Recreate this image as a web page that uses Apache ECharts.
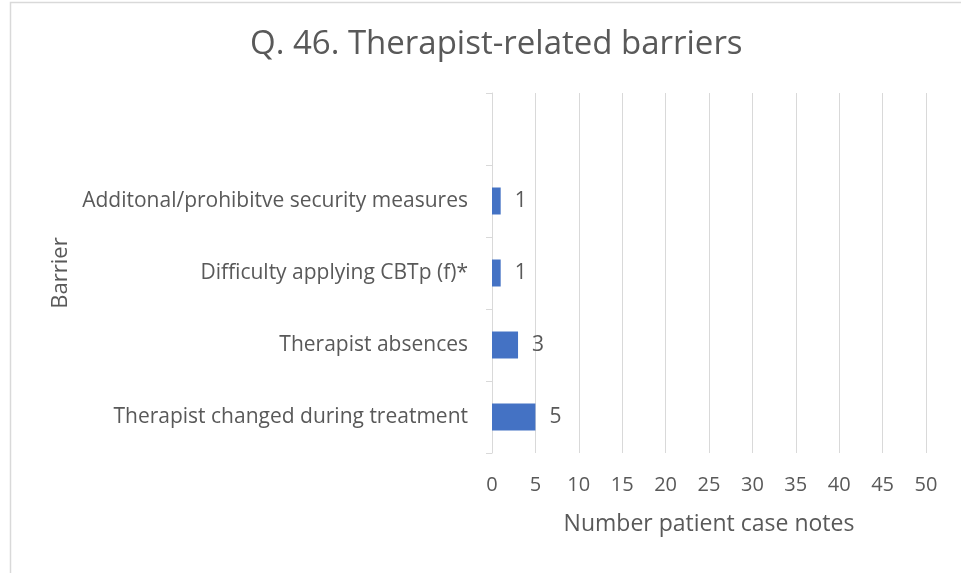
<!DOCTYPE html>
<html>
<head>
<meta charset="utf-8">
<script src="https://cdn.jsdelivr.net/npm/echarts@6/dist/echarts.min.js"></script>
<style>
  html, body { margin: 0; padding: 0; background: #fff; }
  #chart { width: 961px; height: 573px; }
</style>
</head>
<body>
<div id="chart"></div>
<script>
// bottom to top, the top band is empty in the source chart
var categories = ['Therapist changed during treatment', 'Therapist absences', 'Difficulty applying CBTp (f)*', 'Additonal/prohibitve security measures', '']
var caseNotes = [5, 3, 1, 1, null]

var textColor = '#595959'
var lineColor = '#d9d9d9'
var font = 'Open Sans'

var chart = echarts.init(document.getElementById('chart'))
chart.setOption({
  animation: false,
  graphic: [{
    type: 'rect',
    shape: { x: 10.5, y: 2.5, width: 1000, height: 1000 },
    style: { fill: 'none', stroke: lineColor, lineWidth: 1.5 },
    silent: true
  }],
  title: {
    text: 'Q. 46. Therapist-related barriers',
    left: 245,
    top: 23,
    textStyle: { fontFamily: font, fontSize: 33, fontWeight: 'normal', color: textColor }
  },
  grid: { left: 492, right: 35, top: 93, bottom: 120, containLabel: false },
  xAxis: {
    type: 'value',
    min: 0,
    max: 50,
    interval: 5,
    name: 'Number patient case notes',
    nameLocation: 'middle',
    nameGap: 60,
    nameTextStyle: { fontFamily: font, fontSize: 23, color: textColor },
    axisLine: { show: false },
    axisTick: { show: false },
    axisLabel: { fontFamily: font, fontSize: 20, color: textColor, margin: 22 },
    splitLine: { show: true, lineStyle: { color: lineColor, width: 1 } }
  },
  yAxis: {
    type: 'category',
    data: categories,
    name: 'Barrier',
    nameLocation: 'middle',
    nameGap: 420,
    nameRotate: 90,
    nameTextStyle: { fontFamily: font, fontSize: 22, color: textColor },
    axisLine: { show: true, lineStyle: { color: lineColor, width: 1 } },
    axisTick: { show: true, length: 6, lineStyle: { color: lineColor } },
    axisLabel: { fontFamily: font, fontSize: 21, color: textColor, margin: 24 },
    splitLine: { show: false }
  },
  series: [{
    type: 'bar',
    data: caseNotes,
    barWidth: 27,
    itemStyle: { color: '#4472C4' },
    label: {
      show: true,
      position: 'right',
      distance: 14,
      fontFamily: font,
      fontSize: 21,
      color: textColor
    }
  }]
})
</script>
</body>
</html>
